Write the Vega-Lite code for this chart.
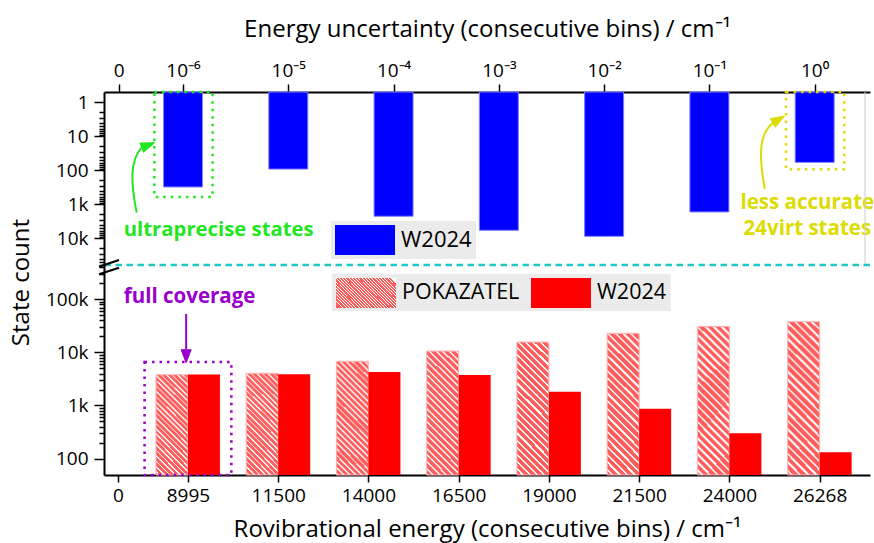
{
  "$schema": "https://vega.github.io/schema/vega-lite/v6.json",
  "padding": {"left": 8, "top": 17, "right": 0, "bottom": 5},
  "bounds": "flush",
  "spacing": 0,
  "datasets": {
    "top": [
      {"bin": 1, "uncertainty": "1e-6", "model": "W2024", "count": 313},
      {"bin": 2, "uncertainty": "1e-5", "model": "W2024", "count": 93},
      {"bin": 3, "uncertainty": "1e-4", "model": "W2024", "count": 2280},
      {"bin": 4, "uncertainty": "1e-3", "model": "W2024", "count": 5900},
      {"bin": 5, "uncertainty": "1e-2", "model": "W2024", "count": 8870},
      {"bin": 6, "uncertainty": "1e-1", "model": "W2024", "count": 1700},
      {"bin": 7, "uncertainty": "1e0", "model": "W2024", "count": 59}
    ],
    "bottom": [
      {"bin": 1, "energy": "8995", "model": "POKAZATEL", "count": 3800},
      {"bin": 1, "energy": "8995", "model": "W2024", "count": 3850},
      {"bin": 2, "energy": "11500", "model": "POKAZATEL", "count": 4050},
      {"bin": 2, "energy": "11500", "model": "W2024", "count": 3870},
      {"bin": 3, "energy": "14000", "model": "POKAZATEL", "count": 6800},
      {"bin": 3, "energy": "14000", "model": "W2024", "count": 4270},
      {"bin": 4, "energy": "16500", "model": "POKAZATEL", "count": 10600},
      {"bin": 4, "energy": "16500", "model": "W2024", "count": 3750},
      {"bin": 5, "energy": "19000", "model": "POKAZATEL", "count": 15700},
      {"bin": 5, "energy": "19000", "model": "W2024", "count": 1820},
      {"bin": 6, "energy": "21500", "model": "POKAZATEL", "count": 22900},
      {"bin": 6, "energy": "21500", "model": "W2024", "count": 870},
      {"bin": 7, "energy": "24000", "model": "POKAZATEL", "count": 31000},
      {"bin": 7, "energy": "24000", "model": "W2024", "count": 300},
      {"bin": 8, "energy": "26268", "model": "POKAZATEL", "count": 37900},
      {"bin": 8, "energy": "26268", "model": "W2024", "count": 131}
    ]
  },
  "resolve": {"scale": {"color": "independent", "opacity": "independent", "x": "independent", "y": "independent"}, "legend": {"color": "independent", "opacity": "independent"}},
  "vconcat": [
    {
      "width": 766,
      "height": 173,
      "layer": [
        {
          "data": {"name": "top"},
          "mark": {"type": "bar", "width": 39, "stroke": "#7f7fff", "strokeWidth": 1},
          "encoding": {
            "x": {
              "field": "bin", "type": "quantitative",
              "scale": {"domain": [0.297, 7.478], "nice": false, "zero": false},
              "axis": {
                "orient": "top",
                "values": [0.39, 1, 2, 3, 4, 5, 6, 7],
                "labelExpr": "datum.value < 0.5 ? '0' : ['', '10⁻⁶', '10⁻⁵', '10⁻⁴', '10⁻³', '10⁻²', '10⁻¹', '10⁰'][datum.value]",
                "tickSize": 8,
                "labelPadding": 4,
                "labelFlush": false,
                "labelOverlap": false,
                "title": "Energy uncertainty (consecutive bins) / cm⁻¹",
                "titlePadding": 20
              }
            },
            "y": {
              "field": "count", "type": "quantitative",
              "scale": {"type": "log", "domain": [0.5, 62000], "reverse": true, "nice": false, "zero": false},
              "axis": {
                "orient": "left",
                "title": null,
                "values": [1, 2, 3, 4, 5, 6, 7, 8, 9, 10, 20, 30, 40, 50, 60, 70, 80, 90, 100, 200, 300, 400, 500, 600, 700, 800, 900, 1000, 2000, 3000, 4000, 5000, 6000, 7000, 8000, 9000, 10000, 20000, 30000, 40000, 50000, 60000],
                "labelExpr": "datum.value === 1 ? '1' : datum.value === 10 ? '10' : datum.value === 100 ? '100' : datum.value === 1000 ? '1k' : datum.value === 10000 ? '10k' : ''",
                "tickSize": {"condition": {"test": "indexof([1, 10, 100, 1000, 10000], datum.value) >= 0", "value": 10}, "value": 5},
                "labelPadding": 6,
                "labelOverlap": false,
                "labelFlush": false
              }
            },
            "y2": {"datum": 0.5},
            "color": {
              "field": "model", "type": "nominal",
              "scale": {"domain": ["W2024"], "range": ["#0000ff"]},
              "legend": {
                "title": null, "orient": "none", "legendX": 227, "legendY": 129,
                "symbolType": "M-1,-1H3V1H-1Z", "symbolSize": 900, "symbolStrokeWidth": 0,
                "labelOffset": 36, "labelFontSize": 22, "labelFont": "Open Sans", "labelColor": "black",
                "padding": 4, "fillColor": "#ebebeb"
              }
            }
          }
        },
        {
          "data": {"values": [{}]},
          "mark": {"type": "rect", "filled": false, "stroke": "#22e622", "strokeWidth": 2.5, "strokeDash": [2.5, 5]},
          "encoding": {
            "x": {"datum": 0.728, "type": "quantitative"},
            "x2": {"datum": 1.281},
            "y": {"datum": 0.5, "type": "quantitative"},
            "y2": {"datum": 617}
          }
        },
        {
          "data": {"values": [{}]},
          "mark": {"type": "rect", "filled": false, "stroke": "#dcdc00", "strokeWidth": 2.5, "strokeDash": [2.5, 5]},
          "encoding": {
            "x": {"datum": 6.728, "type": "quantitative"},
            "x2": {"datum": 7.281},
            "y": {"datum": 0.5, "type": "quantitative"},
            "y2": {"datum": 94}
          }
        },
        {
          "data": {"values": [{}]},
          "mark": {"type": "point", "shape": "M-18,70C-24,40 -25,18 -13,5", "size": 4, "filled": false, "stroke": "#22e622", "strokeWidth": 2, "opacity": 1},
          "encoding": {
            "x": {"datum": 0.731, "type": "quantitative"},
            "y": {"datum": 15.5, "type": "quantitative"}
          }
        },
        {
          "data": {"values": [{}]},
          "mark": {"type": "point", "shape": "M0,0L-14.8,0.4L-11.2,9.6Z", "size": 4, "filled": true, "fill": "#22e622", "stroke": "#22e622", "strokeWidth": 1, "opacity": 1},
          "encoding": {
            "x": {"datum": 0.731, "type": "quantitative"},
            "y": {"datum": 15.5, "type": "quantitative"}
          }
        },
        {
          "data": {"values": [{}]},
          "mark": {"type": "point", "shape": "M-20,73C-26,40 -26,18 -12,7", "size": 4, "filled": false, "stroke": "#dcdc00", "strokeWidth": 2, "opacity": 1},
          "encoding": {
            "x": {"datum": 6.716, "type": "quantitative"},
            "y": {"datum": 2.54, "type": "quantitative"}
          }
        },
        {
          "data": {"values": [{}]},
          "mark": {"type": "point", "shape": "M0,0L-14.5,2.7L-9.5,11.3Z", "size": 4, "filled": true, "fill": "#dcdc00", "stroke": "#dcdc00", "strokeWidth": 1, "opacity": 1},
          "encoding": {
            "x": {"datum": 6.716, "type": "quantitative"},
            "y": {"datum": 2.54, "type": "quantitative"}
          }
        },
        {
          "data": {"values": [{}]},
          "mark": {"type": "text", "text": "ultraprecise states", "align": "left", "baseline": "middle", "font": "Open Sans", "fontWeight": "bold", "fontSize": 20.3, "color": "#22e622"},
          "encoding": {
            "x": {"datum": 0.4375, "type": "quantitative"},
            "y": {"datum": 5770, "type": "quantitative"}
          }
        },
        {
          "data": {"values": [{}]},
          "mark": {"type": "text", "text": ["less accurate", "24virt states"], "lineHeight": 26, "align": "center", "baseline": "middle", "font": "Open Sans", "fontWeight": "bold", "fontSize": 20.5, "color": "#dcdc00"},
          "encoding": {
            "x": {"datum": 6.93, "type": "quantitative"},
            "y": {"datum": 920, "type": "quantitative"}
          }
        },
        {
          "data": {"values": [{}]},
          "mark": {"type": "rule", "color": "#cccccc", "strokeWidth": 1},
          "encoding": {"x": {"datum": 7.478, "type": "quantitative"}}
        },
        {
          "data": {"values": [{}]},
          "mark": {"type": "rule", "color": "#1fc8c8", "strokeWidth": 2.5, "strokeDash": [6.5, 4.5]},
          "encoding": {"y": {"datum": 62000, "type": "quantitative"}}
        },
        {
          "data": {"values": [{}]},
          "mark": {"type": "point", "shape": "M-10,1.7L10,-5M-10,9.3L10,2.7", "size": 4, "filled": false, "stroke": "black", "strokeWidth": 2, "opacity": 1},
          "encoding": {
            "x": {"datum": 0.297, "type": "quantitative"},
            "y": {"datum": 62000, "type": "quantitative"}
          }
        }
      ]
    },
    {
      "width": 766,
      "height": 210,
      "layer": [
        {
          "data": {"values": [{}]},
          "mark": {"type": "rect", "color": "#ebebeb"},
          "encoding": {
            "x": {
              "datum": 2.597, "type": "quantitative",
              "scale": {"domain": [0.125, 8.503], "nice": false, "zero": false},
              "axis": {
                "orient": "bottom",
                "values": [0.223, 1, 2, 3, 4, 5, 6, 7, 8],
                "labelExpr": "datum.value < 0.5 ? '0' : ['', '8995', '11500', '14000', '16500', '19000', '21500', '24000', '26268'][datum.value]",
                "tickSize": 7,
                "labelPadding": 4,
                "labelFlush": false,
                "labelOverlap": false,
                "title": "Rovibrational energy (consecutive bins) / cm⁻¹",
                "titlePadding": 12
              }
            },
            "x2": {"datum": 6.35},
            "y": {
              "datum": 304000, "type": "quantitative",
              "scale": {"type": "log", "domain": [49, 444000], "nice": false, "zero": false},
              "axis": {
                "orient": "left",
                "title": "State count",
                "titleX": -83,
                "titleY": 17,
                "titleAngle": 270,
                "titleAlign": "center",
                "titleBaseline": "middle",
                "values": [100, 200, 300, 400, 500, 600, 700, 800, 900, 1000, 2000, 3000, 4000, 5000, 6000, 7000, 8000, 9000, 10000, 20000, 30000, 40000, 50000, 60000, 70000, 80000, 90000, 100000, 200000, 300000, 400000],
                "labelExpr": "datum.value === 100 ? '100' : datum.value === 1000 ? '1k' : datum.value === 10000 ? '10k' : datum.value === 100000 ? '100k' : ''",
                "tickSize": {"condition": {"test": "indexof([100, 1000, 10000, 100000], datum.value) >= 0", "value": 10}, "value": 5},
                "labelPadding": 6,
                "labelOverlap": false,
                "labelFlush": false
              }
            },
            "y2": {"datum": 60300}
          }
        },
        {
          "data": {"name": "bottom"},
          "transform": [{"filter": "datum.model === 'POKAZATEL'"}],
          "mark": {
            "type": "bar", "width": 32, "xOffset": -16, "stroke": "#ffb3b3", "strokeWidth": 1,
            "fill": {
              "gradient": "radial", "x1": -19.5, "y1": 20.5, "r1": 27.809, "x2": -19.5, "y2": 20.5, "r2": 28.759,
              "stops": [
                {"offset": 0, "color": "#ff5c5c"}, {"offset": 0.028, "color": "#ff5c5c"}, {"offset": 0.028, "color": "#ffffff"}, {"offset": 0.04, "color": "#ffffff"},
                {"offset": 0.04, "color": "#ff5c5c"}, {"offset": 0.068, "color": "#ff5c5c"}, {"offset": 0.068, "color": "#ffffff"}, {"offset": 0.08, "color": "#ffffff"},
                {"offset": 0.08, "color": "#ff5c5c"}, {"offset": 0.108, "color": "#ff5c5c"}, {"offset": 0.108, "color": "#ffffff"}, {"offset": 0.12, "color": "#ffffff"},
                {"offset": 0.12, "color": "#ff5c5c"}, {"offset": 0.148, "color": "#ff5c5c"}, {"offset": 0.148, "color": "#ffffff"}, {"offset": 0.16, "color": "#ffffff"},
                {"offset": 0.16, "color": "#ff5c5c"}, {"offset": 0.188, "color": "#ff5c5c"}, {"offset": 0.188, "color": "#ffffff"}, {"offset": 0.2, "color": "#ffffff"},
                {"offset": 0.2, "color": "#ff5c5c"}, {"offset": 0.228, "color": "#ff5c5c"}, {"offset": 0.228, "color": "#ffffff"}, {"offset": 0.24, "color": "#ffffff"},
                {"offset": 0.24, "color": "#ff5c5c"}, {"offset": 0.268, "color": "#ff5c5c"}, {"offset": 0.268, "color": "#ffffff"}, {"offset": 0.28, "color": "#ffffff"},
                {"offset": 0.28, "color": "#ff5c5c"}, {"offset": 0.308, "color": "#ff5c5c"}, {"offset": 0.308, "color": "#ffffff"}, {"offset": 0.32, "color": "#ffffff"},
                {"offset": 0.32, "color": "#ff5c5c"}, {"offset": 0.348, "color": "#ff5c5c"}, {"offset": 0.348, "color": "#ffffff"}, {"offset": 0.36, "color": "#ffffff"},
                {"offset": 0.36, "color": "#ff5c5c"}, {"offset": 0.388, "color": "#ff5c5c"}, {"offset": 0.388, "color": "#ffffff"}, {"offset": 0.4, "color": "#ffffff"},
                {"offset": 0.4, "color": "#ff5c5c"}, {"offset": 0.428, "color": "#ff5c5c"}, {"offset": 0.428, "color": "#ffffff"}, {"offset": 0.44, "color": "#ffffff"},
                {"offset": 0.44, "color": "#ff5c5c"}, {"offset": 0.468, "color": "#ff5c5c"}, {"offset": 0.468, "color": "#ffffff"}, {"offset": 0.48, "color": "#ffffff"},
                {"offset": 0.48, "color": "#ff5c5c"}, {"offset": 0.508, "color": "#ff5c5c"}, {"offset": 0.508, "color": "#ffffff"}, {"offset": 0.52, "color": "#ffffff"},
                {"offset": 0.52, "color": "#ff5c5c"}, {"offset": 0.548, "color": "#ff5c5c"}, {"offset": 0.548, "color": "#ffffff"}, {"offset": 0.56, "color": "#ffffff"},
                {"offset": 0.56, "color": "#ff5c5c"}, {"offset": 0.588, "color": "#ff5c5c"}, {"offset": 0.588, "color": "#ffffff"}, {"offset": 0.6, "color": "#ffffff"},
                {"offset": 0.6, "color": "#ff5c5c"}, {"offset": 0.628, "color": "#ff5c5c"}, {"offset": 0.628, "color": "#ffffff"}, {"offset": 0.64, "color": "#ffffff"},
                {"offset": 0.64, "color": "#ff5c5c"}, {"offset": 0.668, "color": "#ff5c5c"}, {"offset": 0.668, "color": "#ffffff"}, {"offset": 0.68, "color": "#ffffff"},
                {"offset": 0.68, "color": "#ff5c5c"}, {"offset": 0.708, "color": "#ff5c5c"}, {"offset": 0.708, "color": "#ffffff"}, {"offset": 0.72, "color": "#ffffff"},
                {"offset": 0.72, "color": "#ff5c5c"}, {"offset": 0.748, "color": "#ff5c5c"}, {"offset": 0.748, "color": "#ffffff"}, {"offset": 0.76, "color": "#ffffff"},
                {"offset": 0.76, "color": "#ff5c5c"}, {"offset": 0.788, "color": "#ff5c5c"}, {"offset": 0.788, "color": "#ffffff"}, {"offset": 0.8, "color": "#ffffff"},
                {"offset": 0.8, "color": "#ff5c5c"}, {"offset": 0.828, "color": "#ff5c5c"}, {"offset": 0.828, "color": "#ffffff"}, {"offset": 0.84, "color": "#ffffff"},
                {"offset": 0.84, "color": "#ff5c5c"}, {"offset": 0.868, "color": "#ff5c5c"}, {"offset": 0.868, "color": "#ffffff"}, {"offset": 0.88, "color": "#ffffff"},
                {"offset": 0.88, "color": "#ff5c5c"}, {"offset": 0.908, "color": "#ff5c5c"}, {"offset": 0.908, "color": "#ffffff"}, {"offset": 0.92, "color": "#ffffff"},
                {"offset": 0.92, "color": "#ff5c5c"}, {"offset": 0.948, "color": "#ff5c5c"}, {"offset": 0.948, "color": "#ffffff"}, {"offset": 0.96, "color": "#ffffff"},
                {"offset": 0.96, "color": "#ff5c5c"}, {"offset": 0.988, "color": "#ff5c5c"}, {"offset": 0.988, "color": "#ffffff"}, {"offset": 1, "color": "#ffffff"}
              ]
            }
          },
          "encoding": {
            "x": {"field": "bin", "type": "quantitative"},
            "y": {"field": "count", "type": "quantitative"},
            "y2": {"datum": 49},
            "opacity": {
              "field": "model", "type": "nominal",
              "scale": {"type": "ordinal", "domain": ["POKAZATEL"], "range": [1]},
              "legend": {
                "title": null, "orient": "none", "legendX": 228, "legendY": 9,
                "symbolType": "M-1,-1H3V1H-1Z", "symbolSize": 900, "symbolStrokeWidth": 0,
                "labelOffset": 36, "labelFontSize": 21.5, "labelFont": "Open Sans", "labelColor": "black",
                "padding": 4
              }
            }
          }
        },
        {
          "data": {"name": "bottom"},
          "transform": [{"filter": "datum.model === 'W2024'"}],
          "mark": {"type": "bar", "width": 32, "xOffset": 16},
          "encoding": {
            "x": {"field": "bin", "type": "quantitative"},
            "y": {"field": "count", "type": "quantitative"},
            "y2": {"datum": 49},
            "color": {
              "field": "model", "type": "nominal",
              "scale": {"domain": ["W2024"], "range": ["#ff0000"]},
              "legend": {
                "title": null, "orient": "none", "legendX": 423, "legendY": 9,
                "symbolType": "M-1,-1H3V1H-1Z", "symbolSize": 900, "symbolStrokeWidth": 0,
                "labelOffset": 36, "labelFontSize": 21.5, "labelFont": "Open Sans", "labelColor": "black",
                "padding": 4
              }
            }
          }
        },
        {
          "data": {"values": [{}]},
          "mark": {"type": "rect", "filled": false, "stroke": "#9900cc", "strokeWidth": 2.5, "strokeDash": [2.5, 5]},
          "encoding": {
            "x": {"datum": 0.519, "type": "quantitative"},
            "x2": {"datum": 1.481},
            "y": {"datum": 6590, "type": "quantitative"},
            "y2": {"datum": 49}
          }
        },
        {
          "data": {"values": [{}]},
          "mark": {"type": "rule", "color": "#9900cc", "strokeWidth": 2},
          "encoding": {
            "x": {"datum": 0.98, "type": "quantitative"},
            "y": {"datum": 53000, "type": "quantitative"},
            "y2": {"datum": 11600}
          }
        },
        {
          "data": {"values": [{}]},
          "mark": {"type": "point", "shape": "M-5,-13L5,-13L0,0Z", "size": 4, "filled": true, "fill": "#9900cc", "stroke": "#9900cc", "strokeWidth": 1, "opacity": 1},
          "encoding": {
            "x": {"datum": 0.98, "type": "quantitative"},
            "y": {"datum": 6400, "type": "quantitative"}
          }
        },
        {
          "data": {"values": [{}]},
          "mark": {"type": "text", "text": "full coverage", "align": "left", "baseline": "middle", "font": "Open Sans", "fontWeight": "bold", "fontSize": 20.5, "color": "#9900cc"},
          "encoding": {
            "x": {"datum": 0.289, "type": "quantitative"},
            "y": {"datum": 112000, "type": "quantitative"}
          }
        }
      ]
    }
  ],
  "config": {
    "font": "Open Sans",
    "view": {"stroke": null},
    "axis": {
      "domainColor": "black", "domainWidth": 2, "tickColor": "black", "tickWidth": 1.5,
      "labelColor": "black", "titleColor": "black", "labelFontSize": 19, "titleFontSize": 24,
      "titleFontWeight": "normal", "labelFont": "Open Sans", "titleFont": "Open Sans", "grid": false
    }
  }
}
